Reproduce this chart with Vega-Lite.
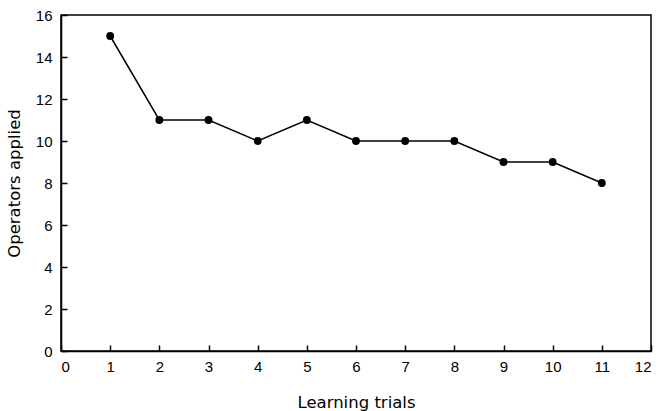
{
  "$schema": "https://vega.github.io/schema/vega-lite/v6.json",
  "width": 590,
  "height": 336,
  "autosize": {"type": "none"},
  "padding": {"left": 61, "top": 15, "right": 9, "bottom": 60},
  "background": "white",
  "config": {
    "view": {"stroke": "black", "strokeWidth": 1.5},
    "font": "DejaVu Sans",
    "axis": {
      "domain": true, "domainColor": "black", "domainWidth": 1.5,
      "tickColor": "black", "tickWidth": 1.5, "tickSize": -6,
      "labelColor": "black", "labelFontSize": 15, "labelFont": "Liberation Sans",
      "titleColor": "black", "titleFontSize": 16.5, "titleFont": "DejaVu Sans", "titleFontWeight": "normal",
      "grid": false
    }
  },
  "data": {"values": [
    {"trial": 1, "ops": 15},
    {"trial": 2, "ops": 11},
    {"trial": 3, "ops": 11},
    {"trial": 4, "ops": 10},
    {"trial": 5, "ops": 11},
    {"trial": 6, "ops": 10},
    {"trial": 7, "ops": 10},
    {"trial": 8, "ops": 10},
    {"trial": 9, "ops": 9},
    {"trial": 10, "ops": 9},
    {"trial": 11, "ops": 8}
  ]},
  "encoding": {
    "x": {"field": "trial", "type": "quantitative", "scale": {"domain": [0, 12], "nice": false, "zero": false},
          "axis": {"values": [0,1,2,3,4,5,6,7,8,9,10,11,12], "title": "Learning trials", "labelPadding": 14, "titlePadding": 20}},
    "y": {"field": "ops", "type": "quantitative", "scale": {"domain": [0, 16], "nice": false},
          "axis": {"values": [0,2,4,6,8,10,12,14,16], "title": "Operators applied", "labelPadding": 15, "titlePadding": 13}}
  },
  "layer": [
    {"mark": {"type": "line", "color": "black", "strokeWidth": 1.5}},
    {"mark": {"type": "point", "filled": true, "color": "black", "opacity": 1, "size": 62}}
  ]
}
